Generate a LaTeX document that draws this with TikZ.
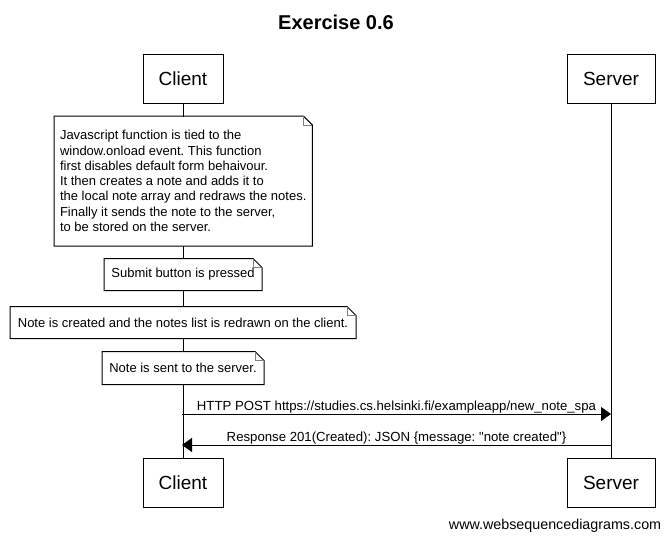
\documentclass[tikz,border=0pt]{standalone}
\usepackage{fontspec}
\setmainfont{Liberation Sans}
\usetikzlibrary{arrows.meta}
\usetikzlibrary{shapes}
\frenchspacing

\begin{document}
\begin{tikzpicture}[x = 1pt, y = -1pt, line width = 1pt]
	\tikzstyle{actorStyle}=[shape = rectangle, draw, fill = white, minimum width = 80pt, minimum height = 49pt, inner sep = 0pt, font = \fontsize{19}{21}\selectfont]
	\tikzstyle{noteStyle}=[shape = rectangle, fill = white, anchor = west, inner xsep = 5.5pt, inner ysep = 0pt, align = left, font = \fontsize{13}{15.3}\selectfont]
	\tikzstyle{msgStyle}=[-{Triangle[length = 10pt, width = 14pt]}]
	\tikzstyle{msgLabel}=[midway, above, inner sep = 0.5pt, font = \fontsize{13.2}{15}\selectfont]
	\useasboundingbox (0,0) rectangle (670,541);
	\node[font = \bfseries\fontsize{20}{22}\selectfont] (title) at (336,22) {Exercise 0.6};
	\node[actorStyle] (clientTop) at (183,78.5) {Client};
	\node[actorStyle, minimum width = 88pt] (serverTop) at (611,78.5) {Server};
	\node[actorStyle] (clientBot) at (183,482.5) {Client};
	\node[actorStyle, minimum width = 88pt] (serverBot) at (611,482.5) {Server};
	\draw (clientTop.south) -- (clientBot.north);
	\draw (serverTop.south) -- (serverBot.north);
	% notes on the client lifeline
	\node[noteStyle, minimum height = 129pt] (noteLoad) at (54,181) {Javascript function is tied to the\\window.onload event. This function\\first disables default form behaivour.\\It then creates a note and adds it to\\the local note array and redraws the notes.\\Finally it sends the note to the server,\\to be stored on the server.};
	\node[noteStyle, minimum width = 157pt, minimum height = 31pt] (noteSubmit) at (104,274.5) {Submit button is pressed};
	\node[noteStyle, minimum width = 345pt, minimum height = 31pt] (noteCreate) at (10,322.5) {Note is created and the notes list is redrawn on the client.};
	\node[noteStyle, minimum width = 161pt, minimum height = 32pt] (noteSend) at (102,368) {Note is sent to the server.};
	\foreach \n in {noteLoad, noteSubmit, noteCreate, noteSend}{
		\draw (\n.north west) -- ([xshift = -9pt]\n.north east) -- ([yshift = -9pt]\n.north east) -- (\n.south east) -- (\n.south west) -- cycle;
		\draw[gray] ([xshift = -9pt]\n.north east) -- ([xshift = -9pt, yshift = -9pt]\n.north east) -- ([yshift = -9pt]\n.north east);
	}
	\coordinate (clientPost) at (182,414);
	\coordinate (serverPost) at (611,414);
	\coordinate (clientResp) at (182,445);
	\coordinate (serverResp) at (611,445);
	\draw[msgStyle] (clientPost) -- (serverPost) node[msgLabel] {HTTP POST https://studies.cs.helsinki.fi/exampleapp/new\_note\_spa};
	\draw[msgStyle] (serverResp) -- (clientResp) node[msgLabel] {Response 201(Created): JSON \{message: \textquotedbl note created\textquotedbl\}};
	\node[anchor = east, font = \fontsize{14.3}{16}\selectfont] (footer) at (665,526) {www.websequencediagrams.com};
\end{tikzpicture}
\end{document}
